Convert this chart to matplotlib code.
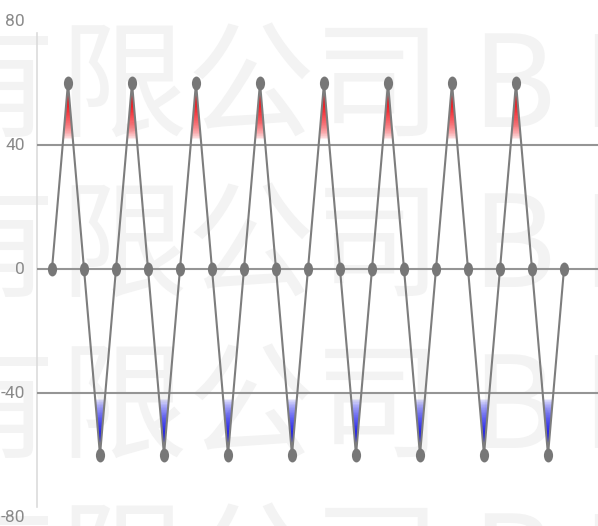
import matplotlib
matplotlib.use("Agg")
import matplotlib.pyplot as plt
import numpy as np
from matplotlib.path import Path
from matplotlib.transforms import Affine2D, blended_transform_factory
from matplotlib import font_manager

# ---- data ----
values = [0, 60, 0, -60, 0, 60, 0, -60, 0, 60, 0, -60, 0, 60, 0, -60,
          0, 60, 0, -60, 0, 60, 0, -60, 0, 60, 0, -60, 0, 60, 0, -60, 0]
y_ticks = [80, 40, 0, -40, -80]
y_tick_labels = ["80", "40", "0", "-40", "-80"]
grid_values = [40, 0, -40]
watermark_chars = ["有", "限", "公", "司", "B", "I"]

W, H = 598, 526
fig = plt.figure(figsize=(W / 100, H / 100), dpi=100)
fig.patch.set_facecolor("white")

# watermark (figure-level, behind axes)
wm_font = ["Noto Sans CJK SC", "DejaVu Sans"]
char_x = [-8, 123, 250, 378, 513, 600]
row_y = [91, 251, 412, 571]
for ry in row_y:
    for cx, ch in zip(char_x, watermark_chars):
        fig.text(cx / W, 1 - ry / H, ch, fontsize=92, family=wm_font,
                 color="#f3f3f3", ha="center", va="center", zorder=0)

# axes: y -80 at px 517, 80 at px 21 ; x index 0 at px 52, step 16 px
left_px, right_px = 37, 598
top_px, bot_px = 21, 517
ax = fig.add_axes([left_px / W, (H - bot_px) / H, (right_px - left_px) / W, (bot_px - top_px) / H])
ax.set_zorder(2)
ax.patch.set_alpha(0)
x = np.arange(len(values))
ax.set_xlim((left_px - 52) / 16, (right_px - 52) / 16)
ax.set_ylim(-80, 80)
for s in ax.spines.values():
    s.set_visible(False)
ax.set_xticks([])
ax.set_yticks([])

# vertical axis line
ax.plot([0, 0], [(bot_px - 507) / (bot_px - top_px), (bot_px - 33) / (bot_px - top_px)],
        transform=ax.transAxes, color="#dcdcdc", lw=1.2, clip_on=False, zorder=1)

# grid lines
for g in grid_values:
    ax.axhline(g, color="#959595", lw=1.5, zorder=1)

# gradient fill clipped to area between line and 0
vals = np.array(values, dtype=float)
poly = ax.fill_between(x, vals, 0, color="none", lw=0)
ny = 800
yy = np.linspace(80, -80, ny)
img = np.zeros((ny, 2, 4))
a_red = np.clip((yy - 42) / 12, 0, 1) ** 0.6
a_blue = np.clip((-yy - 42) / 12, 0, 1) ** 0.6
img[:, :, 0] = np.where(yy > 0, 0.95, 0.08)[:, None]
img[:, :, 1] = np.where(yy > 0, 0.05, 0.08)[:, None]
img[:, :, 2] = np.where(yy > 0, 0.08, 0.92)[:, None]
img[:, :, 3] = np.where(yy > 0, a_red, a_blue)[:, None]
im = ax.imshow(img, extent=[x[0], x[-1], -80, 80], aspect="auto", origin="upper",
               interpolation="nearest", zorder=2)
paths = poly.get_paths()
clip = Path.make_compound_path(*paths)
im.set_clip_path(clip, transform=ax.transData)

# line and markers
ell = Path.unit_circle().transformed(Affine2D().scale(0.66, 1.0))
ax.plot(x, vals, color="#7d7d7d", lw=1.5, zorder=3)
ax.plot(x, vals, linestyle="none", marker=ell, markersize=10, color="#777777",
        markeredgewidth=0, zorder=4)

# tick labels
names = {f.name for f in font_manager.fontManager.ttflist}
lab_font = ["Liberation Sans Narrow", "DejaVu Sans"] if "Liberation Sans Narrow" in names else ["Roboto", "DejaVu Sans"]
tr = blended_transform_factory(fig.transFigure, ax.transData)
for v, lab in zip(y_ticks, y_tick_labels):
    ax.text(25 / W, v, lab, transform=tr, clip_on=False,
            ha="right", va="center", fontsize=12.5, color="#8a8a8a", family=lab_font)

fig.savefig("out.png", dpi=100, facecolor="white")
